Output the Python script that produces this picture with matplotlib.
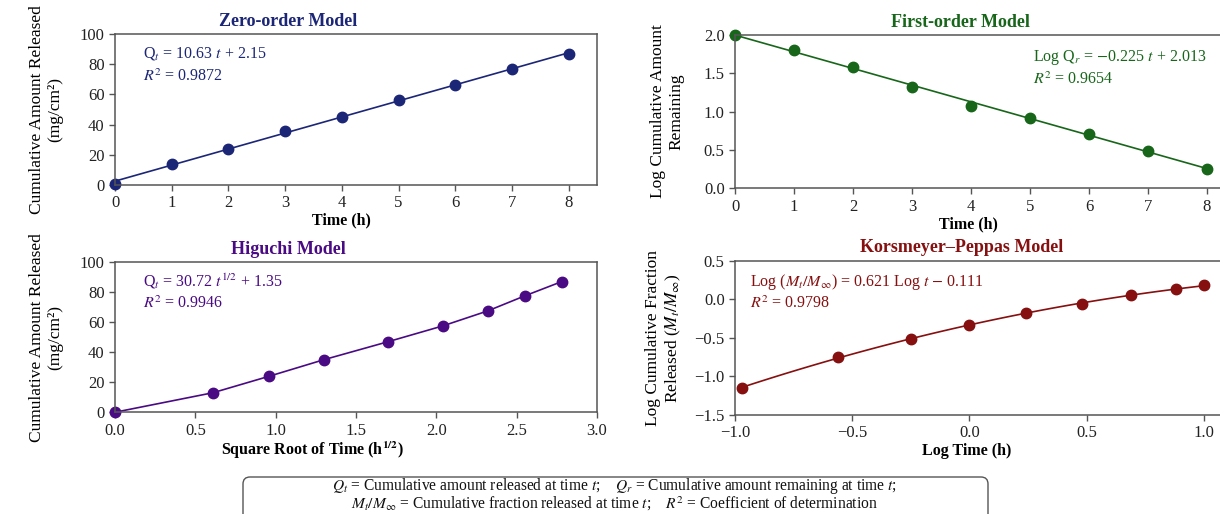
import matplotlib
matplotlib.use("Agg")
import matplotlib.pyplot as plt
import numpy as np
from matplotlib.patches import FancyBboxPatch

plt.rcParams['font.family'] = ['Liberation Serif', 'DejaVu Serif']
plt.rcParams['mathtext.fontset'] = 'stix'
plt.rcParams['axes.unicode_minus'] = True

# Zero-order: cumulative amount released vs time
zero_t = [0, 1, 2, 3, 4, 5, 6, 7, 8]
zero_q = [1.0, 14.0, 24.0, 35.5, 45.0, 56.0, 66.5, 76.5, 87.0]

# First-order: log cumulative amount remaining vs time
first_t = [0, 1, 2, 3, 4, 5, 6, 7, 8]
first_logq = [2.0, 1.80, 1.58, 1.32, 1.07, 0.92, 0.71, 0.49, 0.25]

# Higuchi: amount released vs square root of time
hig_sqrt_t = [0.0, 0.61, 0.96, 1.30, 1.70, 2.04, 2.32, 2.55, 2.78]
hig_q = [0.0, 13.0, 24.0, 35.0, 47.0, 57.5, 67.5, 77.5, 87.0]

# Korsmeyer-Peppas: log fraction released vs log time
kp_logt = [-0.97, -0.56, -0.25, 0.0, 0.24, 0.48, 0.69, 0.88, 1.0]
kp_logf = [-1.15, -0.75, -0.52, -0.33, -0.18, -0.06, 0.05, 0.13, 0.18]

c_zero = "#1c2677"
c_first = "#17661a"
c_hig = "#4a0a84"
c_kp = "#860f0f"

fig = plt.figure(figsize=(12.2, 5.14), dpi=100)

ax1 = fig.add_axes([0.0943, 0.640, 0.395, 0.294])
ax2 = fig.add_axes([0.6025, 0.634, 0.411, 0.298])
ax3 = fig.add_axes([0.0943, 0.198, 0.395, 0.292])
ax4 = fig.add_axes([0.6025, 0.193, 0.4035, 0.300])

LAB = 12.5
ANN = 11.5


def style(ax, color, title, tx):
    for s in ax.spines.values():
        s.set_color("#555555")
        s.set_linewidth(1.1)
    ax.tick_params(direction="out", length=4, width=1, colors="#555555",
                   labelcolor="#222222", labelsize=12)
    ax.set_title(title, color=color, fontsize=13, fontweight="bold", pad=6, x=tx)


# zero-order
style(ax1, c_zero, "Zero-order Model", 0.36)
fit = np.polyfit(zero_t, zero_q, 1)
xx = np.array([zero_t[0], zero_t[-1]])
ax1.plot(xx, np.polyval(fit, xx), color=c_zero, lw=1.2)
ax1.plot(zero_t, zero_q, "o", color=c_zero, ms=7.5, clip_on=False)
ax1.set_xlim(0, 8.5)
ax1.set_ylim(0, 100)
ax1.set_xticks(range(0, 9))
ax1.set_yticks(range(0, 101, 20))
ax1.set_xlabel("Time (h)", fontsize=11.5, fontweight="bold", labelpad=1, x=0.47)
ax1.set_ylabel("Cumulative Amount Released\n(mg/cm\u00b2)", fontsize=LAB, labelpad=12)
ax1.text(0.058, 0.87, r"Q$_t$ = 10.63 $t$ + 2.15", transform=ax1.transAxes,
         color=c_zero, fontsize=ANN, va="center")
ax1.text(0.058, 0.72, r"$R^2$ = 0.9872", transform=ax1.transAxes,
         color=c_zero, fontsize=ANN, va="center")

# first-order
style(ax2, c_first, "First-order Model", 0.45)
fit = np.polyfit(first_t, first_logq, 1)
xx = np.array([first_t[0], first_t[-1]])
ax2.plot(xx, np.polyval(fit, xx), color=c_first, lw=1.2)
ax2.plot(first_t, first_logq, "o", color=c_first, ms=7.5, clip_on=False)
ax2.set_xlim(0, 8.5)
ax2.set_ylim(0, 2.0)
ax2.set_xticks(range(0, 9))
ax2.set_yticks([0.0, 0.5, 1.0, 1.5, 2.0])
ax2.set_xlabel("Time (h)", fontsize=11.5, fontweight="bold", labelpad=1, x=0.465)
ax2.set_ylabel("Log Cumulative Amount\nRemaining", fontsize=LAB, labelpad=14)
ax2.text(0.595, 0.85, r"Log Q$_r$ = $-$0.225 $t$ + 2.013", transform=ax2.transAxes,
         color=c_first, fontsize=ANN, va="center")
ax2.text(0.595, 0.71, r"$R^2$ = 0.9654", transform=ax2.transAxes,
         color=c_first, fontsize=ANN, va="center")

# higuchi
style(ax3, c_hig, "Higuchi Model", 0.36)
ax3.plot(hig_sqrt_t, hig_q, "-", color=c_hig, lw=1.2)
ax3.plot(hig_sqrt_t, hig_q, "o", color=c_hig, ms=7.5, clip_on=False)
ax3.set_xlim(0, 3.0)
ax3.set_ylim(0, 100)
ax3.set_xticks([0.0, 0.5, 1.0, 1.5, 2.0, 2.5, 3.0])
ax3.set_yticks(range(0, 101, 20))
ax3.set_xlabel(r"Square Root of Time (h$^{\mathbf{1/2}}$)", fontsize=11.5,
               fontweight="bold", labelpad=1, x=0.41)
ax3.set_ylabel("Cumulative Amount Released\n(mg/cm\u00b2)", fontsize=LAB, labelpad=12)
ax3.text(0.058, 0.87, r"Q$_t$ = 30.72 $t^{1/2}$ + 1.35", transform=ax3.transAxes,
         color=c_hig, fontsize=ANN, va="center")
ax3.text(0.058, 0.72, r"$R^2$ = 0.9946", transform=ax3.transAxes,
         color=c_hig, fontsize=ANN, va="center")

# korsmeyer-peppas
style(ax4, c_kp, "Korsmeyer\u2013Peppas Model", 0.46)
fit = np.polyfit(kp_logt, kp_logf, 2)
xx = np.linspace(kp_logt[0], kp_logt[-1], 100)
ax4.plot(xx, np.polyval(fit, xx), color=c_kp, lw=1.2)
ax4.plot(kp_logt, kp_logf, "o", color=c_kp, ms=7.5, clip_on=False)
ax4.set_xlim(-1.0, 1.1)
ax4.set_ylim(-1.5, 0.5)
ax4.set_xticks([-1.0, -0.5, 0.0, 0.5, 1.0])
ax4.set_yticks([-1.5, -1.0, -0.5, 0.0, 0.5])
ax4.set_xlabel("Log Time (h)", fontsize=11.5, fontweight="bold", labelpad=1, x=0.47)
ax4.set_ylabel("Log Cumulative Fraction\nReleased ($M_t/M_\\infty$)", fontsize=LAB, labelpad=8)
ax4.text(0.03, 0.86, r"Log ($M_t/M_\infty$) = 0.621 Log $t$ $-$ 0.111",
         transform=ax4.transAxes, color=c_kp, fontsize=ANN, va="center")
ax4.text(0.03, 0.72, r"$R^2$ = 0.9798", transform=ax4.transAxes,
         color=c_kp, fontsize=ANN, va="center")

# footnote box
box = FancyBboxPatch((2.43, -0.15), 7.45, 0.52,
                     boxstyle="round,pad=0,rounding_size=0.07",
                     transform=fig.dpi_scale_trans, facecolor="white",
                     edgecolor="#555555", lw=1.0)
fig.patches.append(box)
fig.text(0.504, 1 - 486 / 514,
         r"$Q_t$ = Cumulative amount released at time $t$;    "
         r"$Q_r$ = Cumulative amount remaining at time $t$;",
         ha="center", va="center", fontsize=11.2, color="#111111")
fig.text(0.504, 1 - 504 / 514,
         r"$M_t/M_\infty$ = Cumulative fraction released at time $t$;    "
         r"$R^2$ = Coefficient of determination",
         ha="center", va="center", fontsize=11.2, color="#111111")

fig.savefig("out.png", dpi=100)
